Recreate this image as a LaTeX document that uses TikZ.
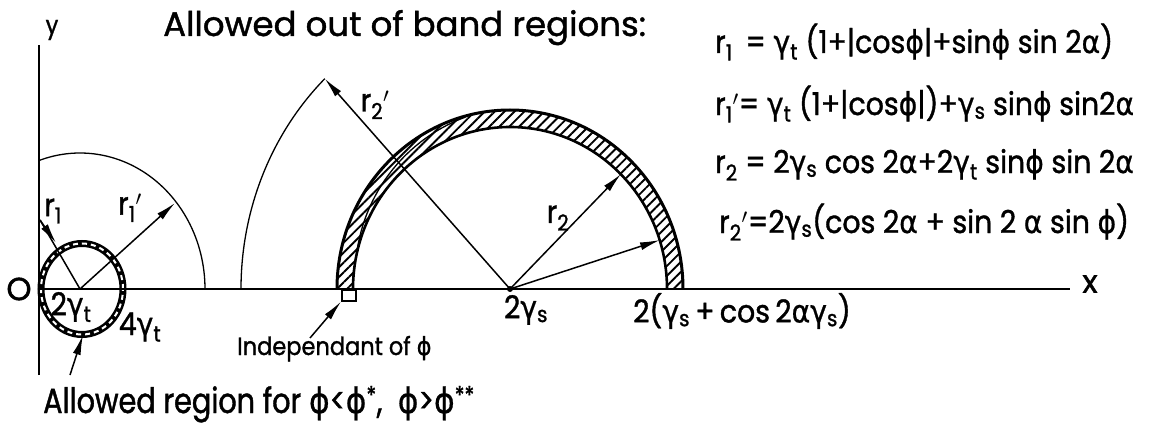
\documentclass[tikz,border=0pt]{standalone}
\usepackage{fontspec}
\setmainfont{Poppins}[FakeBold=1.2]
\newfontfamily\narrowfont{Poppins}[FakeStretch=0.9, FakeBold=1.2]
\newfontfamily\condfont{Poppins}[FakeStretch=0.82, FakeBold=1.2]
\newfontfamily\grk{DejaVu Sans}[FakeStretch=0.9, FakeBold=0.6]
\usetikzlibrary{arrows.meta, positioning, patterns.meta}

\newcommand{\gmm}{{\grk γ}}
\newcommand{\phh}{{\grk ϕ}}
\newcommand{\alh}{{\grk α}}
\newcommand{\gamt}{\gmm\textsubscript{t}}
\newcommand{\gams}{\gmm\textsubscript{s}}

\begin{document}
\begin{tikzpicture}[x=1pt, y=1pt,
    axisline/.style={line width=2.6pt},
    thinarc/.style={line width=1.3pt},
    ringline/.style={line width=3pt},
    radline/.style={line width=1.5pt},
    tip/.style={-{Latex[length=20pt, width=8pt]}},
    txt/.style={inner sep=0pt, font=\fontsize{32}{36}\selectfont},
    eqtxt/.style={inner sep=0pt, font=\narrowfont\fontsize{31.5}{36}\selectfont},
    small/.style={inner sep=0pt, font=\narrowfont\fontsize{25}{30}\selectfont}
]
    \useasboundingbox (0,0) rectangle (1163,-428);

    % axes
    \coordinate (O) at (39,-289);
    \coordinate (ytop) at (39,-45);
    \coordinate (ybot) at (39,-375);
    \coordinate (xend) at (1070,-289);
    \coordinate (ct) at (80,-289);
    \coordinate (rc) at (82,-289);
    \coordinate (cs) at (510,-289);

    % hatched band r2 .. r2'
    \fill[pattern={Lines[angle=45, distance=7pt, line width=1.9pt]}]
        (683,-289) arc[start angle=0, end angle=180, x radius=173, y radius=179]
        -- (353,-289) arc[start angle=180, end angle=0, x radius=157, y radius=162]
        -- cycle;
    \draw[ringline] (683,-289) arc[start angle=0, end angle=180, x radius=173, y radius=179];
    \draw[line width=2.6pt] (353,-289) arc[start angle=180, end angle=0, x radius=157, y radius=162];
    \draw[line width=1.3pt] plot[domain=105:168, samples=30]
        ({510+(172-15*(\x-105)/63)*cos(\x)}, {-289+(178-16*(\x-105)/63)*sin(\x)});
    \node[draw, line width=1.6pt, minimum width=14pt, minimum height=11pt,
          inner sep=0pt, anchor=north west] (sq) at (341,-289) {};

    % small band r1
    \draw[line width=7pt] (rc) ellipse[x radius=41, y radius=45.5];
    \draw[white, line width=2pt, dash pattern=on 5pt off 4pt] (rc) ellipse[x radius=41, y radius=45.5];

    % outer arcs
    \draw[thinarc] (205,-289) arc[start angle=0, end angle=109.1, x radius=125, y radius=136];
    \draw[thinarc] (241,-289) arc[start angle=180, end angle=133.5, x radius=269, y radius=290];
    \coordinate (r1pend) at (175,-203);
    \coordinate (r2pend) at (324.8,-78.7);
    \coordinate (r1a) at (40,-220);
    \coordinate (r1b) at (56,-243);
    \coordinate (r2a) at (621,-174);
    \coordinate (r2b) at (660,-240);

    \draw[axisline] (ybot) -- (ytop);
    \draw[axisline] (O) -- (xend);

    % radii
    \draw[radline] (ct) -- (r1a);
    \draw[radline, tip] (r1a) -- (r1b);
    \draw[radline, tip] (ct) -- (r1pend);
    \draw[radline, tip] (cs) -- (r2pend);
    \draw[radline, tip] (cs) -- (r2a);
    \draw[radline, tip] (cs) -- (r2b);
    \fill (cs) circle (3);

    % labels
    \node[small] (ylab) at (52,-30) {y};
    \node[txt] (olab) at (19,-289) {O};
    \node[txt] (xlab) at (1090,-284) {x};
    \node[txt, font=\fontsize{34}{40}\selectfont, anchor=base west] (title) at (163,-36)
        {Allowed out of band regions:};
    \node[eqtxt] (r1lab) at (53,-211) {r\textsubscript{1}};
    \node[eqtxt] (r1plab) at (130,-208) {r\textsubscript{1}$'$};
    \node[eqtxt] (r2plab) at (375,-105) {r\textsubscript{2}$'$};
    \node[eqtxt] (r2lab) at (558,-218) {r\textsubscript{2}};
    \node[eqtxt] (twogt) at (71,-307) {2\gamt};
    \node[eqtxt] (fourgt) at (140,-327) {4\gamt};
    \node[eqtxt] (twogs) at (526,-310) {2\gams};
    \node[eqtxt, anchor=west] (rightend) at (633,-311) {2(\gams\,+\,cos\,2\alh\gams)};

    \node[eqtxt, anchor=base west] (eqa) at (715,-53)
        {r\textsubscript{1} \,= \gamt\ (1+|cos\phh|+sin\phh\ sin 2\alh)};
    \node[eqtxt, anchor=base west] (eqb) at (715,-115)
        {r\textsubscript{1}$'$= \gamt\ (1+|cos\phh|)+\gams\ sin\phh\ sin2\alh};
    \node[eqtxt, anchor=base west] (eqc) at (715,-173)
        {r\textsubscript{2} = 2\gams\ cos 2\alh+2\gamt\ sin\phh\ sin 2\alh};
    \node[eqtxt, anchor=base west] (eqd) at (719,-233)
        {r\textsubscript{2}$'$=2\gams(cos 2\alh\ + sin 2 \alh\ sin \phh)};

    \node[small, anchor=base west] (indep) at (237,-355) {Independant of \phh};
    \node[txt, font=\condfont\fontsize{35}{40}\selectfont, anchor=base west] (allowed) at (43,-413)
        {Allowed region for \phh<\phh\textsuperscript{*}, \ \phh>\phh\textsuperscript{**}};

    \coordinate (indtail) at (310,-338);
    \coordinate (alltail) at (70,-375);
    \coordinate (allhead) at (83,-335);
    \draw[radline, tip] (indtail) -- (sq.south west);
    \draw[radline, tip] (alltail) -- (allhead);
\end{tikzpicture}
\end{document}
